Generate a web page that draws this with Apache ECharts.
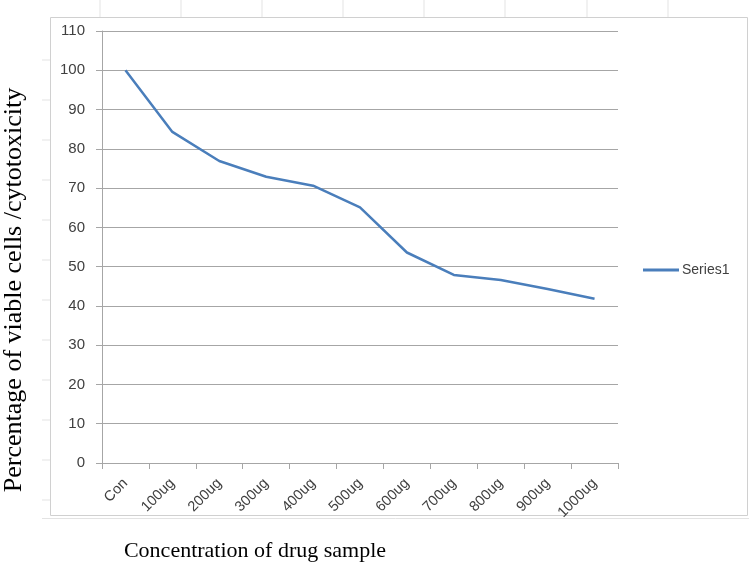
<!DOCTYPE html>
<html><head><meta charset="utf-8">
<script src="https://cdn.jsdelivr.net/npm/echarts@6/dist/echarts.min.js"></script>
<style>html,body{margin:0;padding:0;background:#fff}#c{width:749px;height:563px}</style>
</head><body><div id="c"></div>
<script>
const categories = ['Con','100ug','200ug','300ug','400ug','500ug','600ug','700ug','800ug','900ug','1000ug'];
const series1 = [100, 84.3, 76.9, 72.9, 70.6, 65.1, 53.6, 47.9, 46.6, 44.3, 41.8];
const yTicks = {min: 0, max: 110, interval: 10};

const chart = echarts.init(document.getElementById('c'));
const sheetCols = [100, 181, 262, 343, 424, 505, 587, 668];
const graphics = [];
sheetCols.forEach(x => graphics.push({type:'line', shape:{x1:x,y1:0,x2:x,y2:17}, style:{stroke:'#e3e3e3', lineWidth:1}, silent:true}));
[60, 100, 140, 180, 220, 260, 300, 340, 380, 420, 460, 500].forEach(y => graphics.push({type:'line', shape:{x1:42,y1:y,x2:50,y2:y}, style:{stroke:'#e3e3e3', lineWidth:1}, silent:true}));
graphics.push({type:'rect', shape:{x:50.5,y:17.5,width:697,height:498}, style:{fill:'none', stroke:'#d0d0d0', lineWidth:1}, silent:true});
graphics.push({type:'line', shape:{x1:42,y1:518.5,x2:749,y2:518.5}, style:{stroke:'#e3e3e3', lineWidth:1}, silent:true});
graphics.push({type:'text', z: 10, rotation: Math.PI/2, x: 14, y: 290,
  style:{text:'Percentage of viable cells /cytotoxicity', fill:'#000', font:'26px "Liberation Serif"', textAlign:'center', textVerticalAlign:'middle'}, silent:true});

chart.setOption({
  animation: false,
  backgroundColor: '#fff',
  graphic: graphics,
  legend: {
    orient: 'vertical', left: 638, top: 258,
    itemWidth: 36, itemHeight: 3, itemGap: 4,
    icon: 'rect',
    textStyle: {color: '#404040', fontSize: 14, fontFamily: 'Liberation Sans', padding: [0,0,0,-2]},
    data: ['Series1']
  },
  grid: {left: 102, right: 131, top: 31, bottom: 100, outerBoundsMode: 'none', containLabel: false},
  xAxis: {
    type: 'category', data: categories, boundaryGap: true,
    axisLine: {lineStyle: {color: '#a6a6a6'}},
    axisTick: {show: true, length: 6, lineStyle: {color: '#a6a6a6'}},
    axisLabel: {rotate: 45, color: '#404040', fontSize: 14.5, fontFamily: 'Liberation Sans', margin: 18, interval: 0},
    name: 'Concentration of drug sample', nameLocation: 'middle', nameGap: 77,
    nameTextStyle: {fontFamily: 'Liberation Serif', fontSize: 22, color: '#000', padding: [0, 210, 0, 0]}
  },
  yAxis: {
    type: 'value', min: yTicks.min, max: yTicks.max, interval: yTicks.interval,
    axisLine: {show: true, lineStyle: {color: '#a6a6a6'}},
    axisTick: {show: true, length: 6, lineStyle: {color: '#a6a6a6'}},
    splitLine: {lineStyle: {color: '#a6a6a6'}},
    axisLabel: {color: '#404040', fontSize: 15, fontFamily: 'Liberation Sans', margin: 17}
  },
  series: [{
    name: 'Series1', type: 'line', data: series1, smooth: false,
    symbol: 'none', lineStyle: {color: '#4a7ebb', width: 2.5}, itemStyle: {color: '#4a7ebb'}
  }]
});
</script></body></html>
